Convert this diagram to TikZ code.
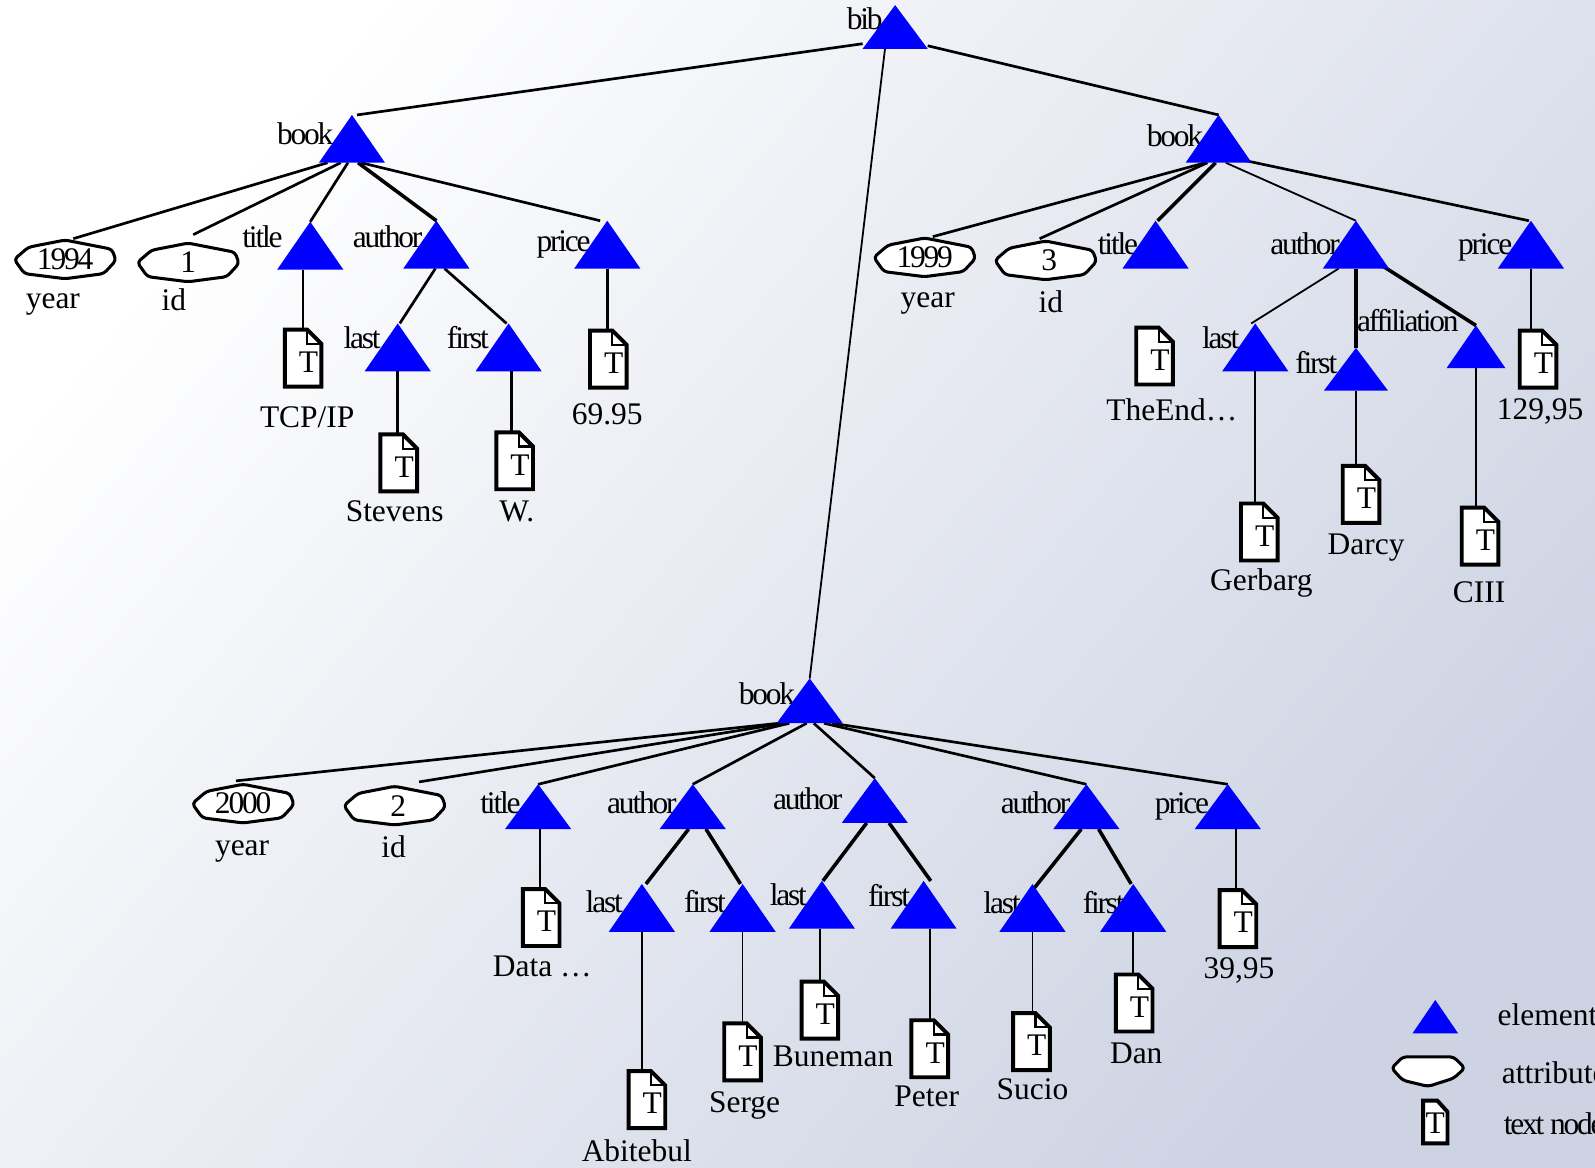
\documentclass[tikz,border=0pt]{standalone}
\usepackage{fontspec}
\setmainfont{Liberation Serif}
\newfontfamily\tightfont[LetterSpace=-7]{Liberation Serif}
\usetikzlibrary{shapes.geometric, backgrounds}

\definecolor{bgend}{HTML}{CDD3E3}

\tikzset{
  elem/.style={isosceles triangle, isosceles triangle stretches, shape border rotate=90,
    fill=blue, inner sep=0pt, outer sep=0pt, minimum width=1.3cm, minimum height=.94cm, anchor=apex},
  edge/.style={line width=1.5pt},
  thinedge/.style={line width=1pt},
  boldedge/.style={line width=2pt},
  lab/.style={font=\fontsize{17.6}{20}\selectfont, inner sep=0pt},
  elab/.style={font=\fontsize{17.6}{20}\selectfont\tightfont, inner sep=0pt},
  shapeline/.style={draw=black, fill=white, line width=1.7pt, line join=round, rounded corners=2pt},
  docline/.style={draw=black, fill=white, line width=2.2pt, line join=miter},
  docbox/.style={font=\fontsize{17.6}{20}\selectfont, inner sep=0pt, minimum width=.74cm, minimum height=1.14cm,
    text height=16pt, text depth=0pt}
}

% name, x, y, text
\newcommand{\attrnode}[4]{%
  \draw[shapeline, shift={(#2,#3)}] (-50,0) -- (-36,-12) -- (0,-19) -- (46,-10) -- (50,1)
    -- (38,14) -- (0,19) -- (-40,14) -- cycle;
  \node[elab, minimum width=1.4cm, minimum height=.6cm] (#1) at (#2,#3) {#4};
}
% name, x, y
\newcommand{\docnode}[3]{%
  \draw[docline, shift={(#2,#3)}] (-18,-28) -- (4,-28) -- (18,-14) -- (18,28) -- (-18,28) -- cycle;
  \draw[line width=1.2pt, shift={(#2,#3)}] (4,-28) -- (4,-14) -- (18,-14);
  \node[docbox] (#1) at (#2,#3) {\kern6pt T};
}

\begin{document}
\begin{tikzpicture}[x=.02cm, y=-.02cm]
\useasboundingbox (0,0) rectangle (1568,1148);

% Raiz
\node[elab] (lbib) at (850,18) {bib};
\node[elem, minimum width=1.28cm, minimum height=.86cm] (bib) at (880,5) {};

% Primer libro
\node[elab] (lbook1) at (300,131) {book};
\node[elem] (book1) at (346,113) {};
\attrnode{year1}{64}{255}{1994}
\node[lab] (lyear1) at (52,299) {year};
\attrnode{id1}{185}{258}{\fontsize{17.6}{20}\selectfont 1}
\node[lab] (lid1) at (171,295) {id};
\node[elab] (ltitle1) at (258,233) {title};
\node[elem] (title1) at (305,218) {};
\node[elab] (lauthor1) at (381,233) {author};
\node[elem] (author1) at (429,217) {};
\node[elab] (lprice1) at (554,240) {price};
\node[elem] (price1) at (597,217) {};
\node[elab] (llast1) at (356,332) {last};
\node[elem] (last1) at (391,318) {};
\node[elab] (lfirst1) at (460,332) {first};
\node[elem] (first1) at (500,318) {};
\docnode{doctitle1}{298}{352}
\node[lab] (vtitle1) at (302,410) {TCP/IP};
\docnode{doclast1}{392}{455}
\node[lab] (vlast1) at (388,503) {Stevens};
\docnode{docfirst1}{506}{453}
\node[lab] (vfirst1) at (508,503) {W.};
\docnode{docprice1}{598}{353}
\node[lab] (vprice1) at (597,407) {69.95};

% Segundo libro
\node[elab] (lbook2) at (1155,133) {book};
\node[elem] (book2) at (1198,113) {};
\attrnode{year2}{909}{253}{1999}
\node[lab] (lyear2) at (912,298) {year};
\attrnode{id2}{1028}{256}{\fontsize{17.6}{20}\selectfont\kern4pt 3}
\node[lab] (lid2) at (1033,297) {id};
\node[elab] (ltitle2) at (1099,240) {title};
\node[elem] (title2) at (1136,217) {};
\node[elab] (lauthor2) at (1283,240) {author};
\node[elem] (author2) at (1333,217) {};
\node[elab] (lprice2) at (1460,243) {price};
\node[elem] (price2) at (1505,217) {};
\node[elab] (llast2) at (1200,332) {last};
\node[elem] (last2) at (1234,318) {};
\node[elab] (lfirst2) at (1294,356) {first};
\node[elem, minimum width=1.26cm, minimum height=.84cm] (first2) at (1333,342) {};
\node[elem, minimum width=1.16cm, minimum height=.84cm] (affil2) at (1451,320) {};
\node[elab] (laffil2) at (1384,315) {affiliation};
\docnode{doctitle2}{1135}{350}
\node[lab] (vtitle2) at (1152,403) {TheEnd…};
\docnode{docprice2}{1512}{353}
\node[lab] (vprice2) at (1514,405) {129,95};
\docnode{doclast2}{1238}{523}
\node[lab] (vlast2) at (1240,573) {Gerbarg};
\docnode{docfirst2}{1338}{486}
\node[lab] (vfirst2) at (1343,538) {Darcy};
\docnode{docaffil2}{1455}{527}
\node[lab] (vaffil2) at (1454,582) {CIII};

% Tercer libro
\node[elab] (lbook3) at (754,682) {book};
\node[elem, minimum height=.88cm] (book3) at (796,667) {};
\attrnode{year3}{239}{790}{2000}
\node[lab] (lyear3) at (238,837) {year};
\attrnode{id3}{388}{792}{\fontsize{17.6}{20}\selectfont\kern4pt 2}
\node[lab] (lid3) at (387,832) {id};
\node[elab] (ltitle3) at (492,789) {title};
\node[elem, minimum height=.88cm] (title3) at (529,771) {};
\node[elab] (lauthora) at (631,789) {author};
\node[elem, minimum height=.88cm] (authora) at (681,771) {};
\node[elab] (lauthorb) at (794,785) {author};
\node[elem, minimum height=.88cm] (authorb) at (860,765) {};
\node[elab] (lauthorc) at (1018,789) {author};
\node[elem, minimum height=.88cm] (authorc) at (1068,771) {};
\node[elab] (lprice3) at (1162,793) {price};
\node[elem, minimum height=.88cm] (price3) at (1207,771) {};
\node[elab] (llasta) at (594,886) {last};
\node[elem] (lasta) at (631,869) {};
\node[elab] (lfirsta) at (693,886) {first};
\node[elem] (firsta) at (730,869) {};
\node[elab] (llastb) at (775,880) {last};
\node[elem] (lastb) at (808,866) {};
\node[elab] (lfirstb) at (874,880) {first};
\node[elem] (firstb) at (908,866) {};
\node[elab] (llastc) at (985,887) {last};
\node[elem] (lastc) at (1015,869) {};
\node[elab] (lfirstc) at (1085,887) {first};
\node[elem] (firstc) at (1114,869) {};
\docnode{doctitle3}{532}{902}
\node[lab] (vtitle3) at (533,950) {Data …};
\docnode{docprice3}{1217}{903}
\node[lab] (vprice3) at (1218,954) {39,95};
\docnode{doclasta}{636}{1081}
\node[lab] (vlasta) at (626,1131) {Abitebul};
\docnode{docfirsta}{730}{1034}
\node[lab] (vfirsta) at (732,1087) {Serge};
\docnode{doclastb}{806}{993}
\node[lab] (vlastb) at (819,1038) {Buneman};
\docnode{docfirstb}{914}{1031}
\node[lab] (vfirstb) at (911,1078) {Peter};
\docnode{doclastc}{1014}{1024}
\node[lab] (vlastc) at (1015,1071) {Sucio};
\docnode{docfirstc}{1115}{986}
\node[lab] (vfirstc) at (1117,1036) {Dan};

% Leyenda
\node[elem, minimum width=.9cm, minimum height=.66cm] (keyelem) at (1411,983) {};
\node[lab, anchor=west] (lkeyelem) at (1472,998) {element};
\draw[shapeline, shift={(1404,1052)}] (-36,-2) -- (-25,-13) -- (25,-13) -- (36,-2) -- (25,8) -- (0,16) -- (-25,10) -- cycle;
\node[lab, anchor=west] (lkeyattr) at (1476,1055) {attribute};
\draw[docline, shift={(1411,1103)}] (-12,-21) -- (2,-21) -- (12,-10) -- (12,21) -- (-12,21) -- cycle;
\node[lab] (keydoc) at (1411,1104) {T};
\node[elab, anchor=west] (lkeydoc) at (1478,1105) {text node};

\begin{scope}[on background layer]
\shade[top color=white, bottom color=bgend, shading angle=50] (0,0) rectangle (1568,1148);

% Aristas de la raiz
\draw[edge] ([yshift=.1cm]bib.left corner) -- ([xshift=.1cm]book1.apex);
\draw[edge] ([yshift=.06cm]bib.right corner) -- (book2.apex);
\draw[thinedge] ([xshift=-.2cm]bib.lower side) -- (book3.apex);

% Aristas del primer libro
\draw[edge] ([xshift=-.48cm]book1.lower side) -- ([xshift=.16cm,yshift=.1cm]year1.north);
\draw[edge] ([xshift=-.22cm]book1.lower side) -- ([xshift=.1cm,yshift=.24cm]id1.north);
\draw[edge] ([xshift=-.08cm]book1.lower side) -- (title1.apex);
\draw[boldedge] ([xshift=.12cm]book1.lower side) -- (author1.apex);
\draw[edge] ([xshift=.18cm]book1.lower side) -- ([xshift=-.14cm]price1.apex);
\draw[edge] ([xshift=-.02cm]author1.lower side) -- ([xshift=.04cm]last1.apex);
\draw[edge] ([xshift=.16cm]author1.lower side) -- ([xshift=-.04cm]first1.apex);
\draw[edge] (doctitle1.north |- title1.lower side) -- (doctitle1.north);
\draw[edge] (last1.lower side) -- (last1.lower side |- doclast1.north);
\draw[boldedge] ([xshift=.06cm]first1.lower side) -- ([xshift=.06cm]first1.lower side |- docfirst1.north);
\draw[edge] (price1.lower side) -- (price1.lower side |- docprice1.north);

% Aristas del segundo libro
\draw[edge] ([xshift=-.26cm]book2.lower side) -- ([xshift=.16cm,yshift=.1cm]year2.north);
\draw[edge] ([xshift=-.22cm]book2.lower side) -- ([xshift=-.12cm,yshift=.12cm]id2.north);
\draw[boldedge] ([xshift=-.06cm]book2.lower side) -- ([xshift=.04cm]title2.apex);
\draw[thinedge] ([xshift=.14cm]book2.lower side) -- (author2.apex);
\draw[edge] ([xshift=.44cm,yshift=.06cm]book2.lower side) -- ([xshift=-.04cm]price2.apex);
\draw[thinedge] ([xshift=-.34cm]author2.lower side) -- ([xshift=-.08cm]last2.apex);
\draw[boldedge] (author2.lower side) -- (first2.apex);
\draw[boldedge] ([xshift=.54cm,yshift=.04cm]author2.lower side) -- (affil2.apex);
\draw[thinedge] (price2.lower side) -- (price2.lower side |- docprice2.north);
\draw[thinedge] (last2.lower side) -- (last2.lower side |- doclast2.north);
\draw[thinedge] (first2.lower side) -- (first2.lower side |- docfirst2.north);
\draw[thinedge] (affil2.lower side) -- (affil2.lower side |- docaffil2.north);

% Aristas del tercer libro
\draw[edge] ([xshift=-.6cm]book3.lower side) -- ([xshift=-.14cm,yshift=.14cm]year3.north);
\draw[edge] ([xshift=-.5cm]book3.lower side) -- ([xshift=.48cm,yshift=.16cm]id3.north);
\draw[edge] ([xshift=-.4cm]book3.lower side) -- (title3.apex);
\draw[edge] ([xshift=-.06cm]book3.lower side) -- (authora.apex);
\draw[edge] ([xshift=.08cm]book3.lower side) -- (authorb.apex);
\draw[edge] ([xshift=.28cm]book3.lower side) -- (authorc.apex);
\draw[edge] ([xshift=.44cm]book3.lower side) -- (price3.apex);
\draw[boldedge] ([xshift=-.08cm]authora.lower side) -- ([xshift=.08cm]lasta.apex);
\draw[boldedge] ([xshift=.26cm]authora.lower side) -- ([xshift=-.04cm]firsta.apex);
\draw[boldedge] ([xshift=-.16cm]authorb.lower side) -- ([xshift=.02cm]lastb.apex);
\draw[boldedge] ([xshift=.28cm]authorb.lower side) -- ([xshift=.14cm]firstb.apex);
\draw[boldedge] ([xshift=-.1cm]authorc.lower side) -- ([xshift=.02cm,yshift=-.1cm]lastc.apex);
\draw[boldedge] ([xshift=.24cm]authorc.lower side) -- ([xshift=-.04cm]firstc.apex);
\draw[thinedge] ([xshift=.04cm]title3.lower side) -- ([xshift=.04cm]title3.lower side |- doctitle3.north);
\draw[thinedge] ([xshift=-.04cm]docprice3.north |- price3.lower side) -- ([xshift=-.04cm]docprice3.north);
\draw[thinedge] (lasta.lower side) -- (lasta.lower side |- doclasta.north);
\draw[thinedge] (firsta.lower side) -- (firsta.lower side |- docfirsta.north);
\draw[thinedge] ([xshift=-.04cm]lastb.lower side) -- ([xshift=-.04cm]lastb.lower side |- doclastb.north);
\draw[thinedge] (docfirstb.north |- firstb.lower side) -- (docfirstb.north);
\draw[thinedge] (lastc.lower side) -- (lastc.lower side |- doclastc.north);
\draw[thinedge] (firstc.lower side) -- (firstc.lower side |- docfirstc.north);
\end{scope}

\end{tikzpicture}
\end{document}
